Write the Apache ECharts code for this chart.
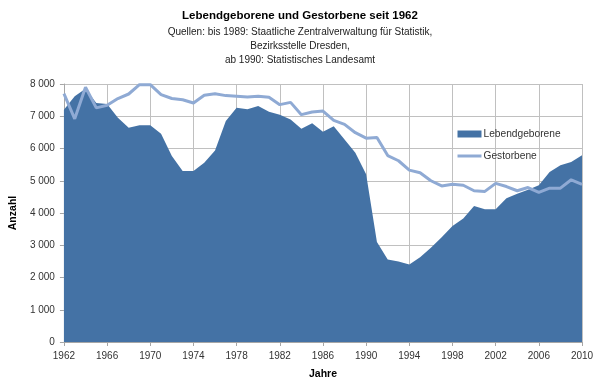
<!DOCTYPE html>
<html>
<head>
<meta charset="utf-8">
<script src="https://cdn.jsdelivr.net/npm/echarts@6/dist/echarts.min.js"></script>
<style>
html,body{margin:0;padding:0;background:#fff;}
#chart{width:600px;height:385px;}
</style>
</head>
<body>
<div id="chart"></div>
<script>
const years = [1962,1963,1964,1965,1966,1967,1968,1969,1970,1971,1972,1973,1974,1975,1976,1977,1978,1979,1980,1981,1982,1983,1984,1985,1986,1987,1988,1989,1990,1991,1992,1993,1994,1995,1996,1997,1998,1999,2000,2001,2002,2003,2004,2005,2006,2007,2008,2009,2010];
const lebendgeborene = [7200,7620,7850,7410,7380,6950,6640,6720,6720,6460,5770,5300,5300,5560,5940,6850,7260,7220,7320,7140,7050,6900,6610,6780,6520,6690,6280,5870,5200,3100,2560,2500,2400,2630,2920,3250,3600,3830,4220,4120,4120,4460,4600,4720,4860,5270,5480,5580,5790];
const gestorbene = [7700,6920,7900,7260,7340,7550,7690,7980,7980,7670,7550,7510,7410,7650,7700,7640,7620,7600,7620,7590,7360,7430,7050,7130,7160,6870,6750,6490,6320,6340,5780,5620,5330,5250,5000,4840,4890,4860,4690,4670,4920,4820,4690,4790,4640,4770,4770,5030,4890];
const seriesNames = ['Lebendgeborene','Gestorbene'];
const titleText = 'Lebendgeborene und Gestorbene seit 1962';
const subtitleLines = ['Quellen: bis 1989: Staatliche Zentralverwaltung für Statistik,','Bezirksstelle Dresden,','ab 1990: Statistisches Landesamt'];
const xAxisName = 'Jahre';
const yAxisName = 'Anzahl';

const FONT = '"Liberation Sans", Arial, sans-serif';
const chart = echarts.init(document.getElementById('chart'), null, {renderer:'canvas'});
chart.setOption({
  animation: false,
  backgroundColor: '#ffffff',
  textStyle: {fontFamily: FONT},
  title: {
    left: 'center', top: 5,
    text: titleText,
    subtext: subtitleLines.join('\n'),
    itemGap: 3,
    textStyle: {fontFamily: FONT, fontSize: 11.5, fontWeight: 'bold', color: '#000'},
    subtextStyle: {fontFamily: FONT, fontSize: 10, color: '#222', lineHeight: 14}
  },
  grid: {left: 62, right: 18, top: 84, bottom: 41, containLabel: false},
  legend: {
    orient: 'vertical', left: 451, top: 124, itemWidth: 24, itemHeight: 7, itemGap: 12,
    textStyle: {fontFamily: FONT, fontSize: 10.2, color: '#333', padding: [0,0,0,-3]},
    data: [
      {name: seriesNames[0], icon: 'rect'},
      {name: seriesNames[1], itemStyle: {opacity: 0}, lineStyle: {width: 3, color: '#8FAAD4'}}
    ]
  },
  xAxis: {
    type: 'value', min: 1962, max: 2010, interval: 4,
    name: xAxisName, nameLocation: 'middle', nameGap: 27,
    nameTextStyle: {fontFamily: FONT, fontSize: 10.5, fontWeight: 'bold', color: '#000'},
    axisLine: {show: true, lineStyle: {color: '#A6A6A6'}},
    axisTick: {show: true, length: 4, lineStyle: {color: '#A6A6A6'}},
    axisLabel: {fontFamily: FONT, fontSize: 10, color: '#333', margin: 9, formatter: v => String(v)},
    splitLine: {show: true, lineStyle: {color: '#C0C0C0', width: 1}}
  },
  yAxis: {
    type: 'value', min: 0, max: 8000, interval: 1000,
    name: yAxisName, nameLocation: 'middle', nameGap: 37, nameRotate: 90,
    nameTextStyle: {fontFamily: FONT, fontSize: 10.5, fontWeight: 'bold', color: '#000'},
    axisLine: {show: true, lineStyle: {color: '#A6A6A6'}},
    axisTick: {show: true, length: 4, lineStyle: {color: '#A6A6A6'}},
    axisLabel: {fontFamily: FONT, fontSize: 10, color: '#333', margin: 9,
      formatter: v => String(v).replace(/\B(?=(\d{3})+(?!\d))/g, ' ')},
    splitLine: {show: true, lineStyle: {color: '#C0C0C0', width: 1}}
  },
  series: [
    {
      name: seriesNames[0], type: 'line', symbol: 'none', z: 2,
      data: years.map((y, i) => [y, lebendgeborene[i]]),
      lineStyle: {width: 0, color: '#4472A5'},
      itemStyle: {color: '#4472A5'},
      areaStyle: {color: '#4472A5', opacity: 1}
    },
    {
      name: seriesNames[1], type: 'line', symbol: 'none', z: 3,
      data: years.map((y, i) => [y, gestorbene[i]]),
      lineStyle: {width: 3, color: '#8FAAD4'},
      itemStyle: {color: '#8FAAD4'}
    }
  ]
});
</script>
</body>
</html>
